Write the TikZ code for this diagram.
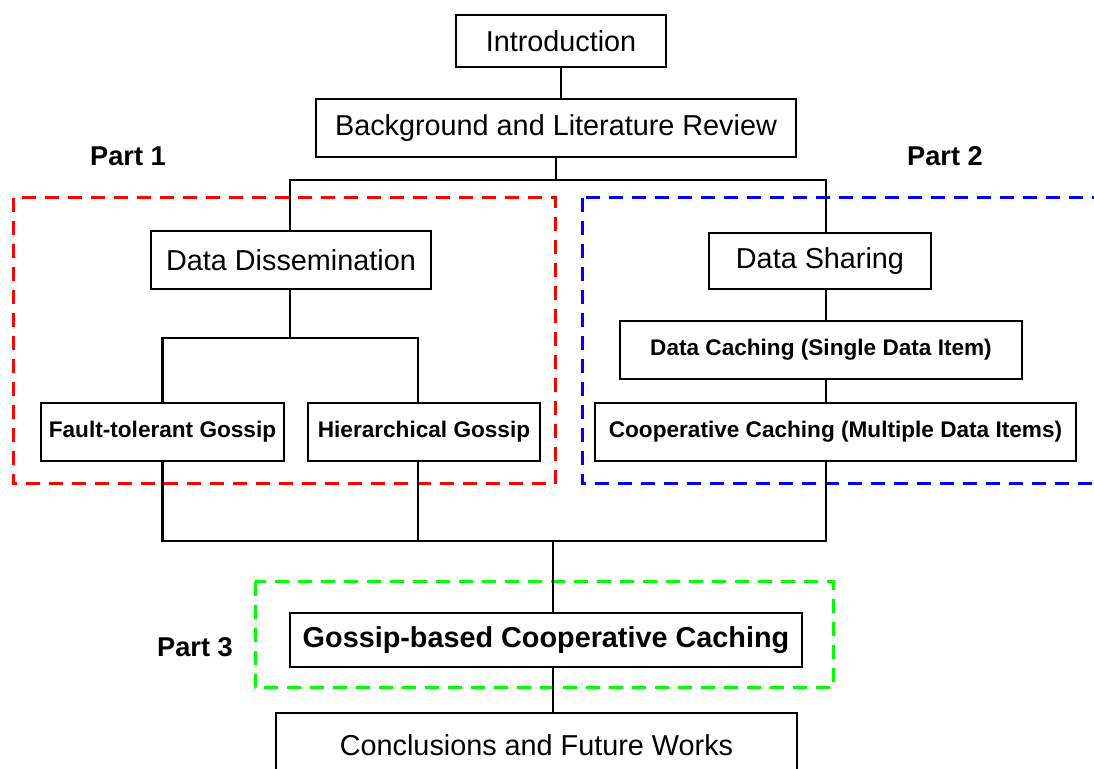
\documentclass[tikz,border=0pt]{standalone}
\usepackage{fontspec}
\setmainfont{Liberation Sans}
\usetikzlibrary{positioning,calc}
\definecolor{thsRed}{HTML}{FF0000}
\definecolor{thsBlue}{HTML}{0000FF}
\definecolor{thsGreen}{HTML}{00FF00}
\tikzset{
  ths/.style={draw=black,line width=1.4pt,fill=white,align=center,inner sep=0pt,
              font=\fontsize{14.4}{16}\selectfont},
  thsbold/.style={ths,font=\fontsize{11.3}{13}\selectfont\bfseries},
  thsmain/.style={ths,font=\fontsize{14.4}{16}\selectfont\bfseries},
  thsflow/.style={draw=black,line width=1.2pt},
  thspart/.style={line width=1.5pt,dash pattern=on 7pt off 4.5pt},
  thslbl/.style={font=\fontsize{13.6}{15}\selectfont\bfseries,inner sep=0pt},
}

\begin{document}
\begin{tikzpicture}[x=0.5pt,y=-0.5pt]
  \useasboundingbox (0,0) rectangle (1094,769);

  % Dashed frames of the three parts.
  \draw[thspart,draw=thsRed]   (13,198)  rectangle (555,484);
  \draw[thspart,draw=thsBlue]  (582,198) rectangle (1110,484);
  \draw[thspart,draw=thsGreen] (255,582) rectangle (833,688);

  % Spine.
  \node[ths,minimum width=105pt,minimum height=26pt] (A) at (561,41) {Introduction};
  \node[ths,minimum width=240pt,minimum height=29pt] (B) at (556,128) {Background and Literature Review};

  % Part 1, to the left.
  \node[ths,minimum width=140pt,minimum height=29pt] (C) at (291,260) {Data Dissemination};
  \node[thsbold,minimum width=121.5pt,minimum height=29pt] (D) at (162.5,432) {Fault-tolerant Gossip};
  \node[thsbold,minimum width=116pt,minimum height=29pt] (E) at (424,432) {Hierarchical Gossip};

  % Part 2, to the right.
  \node[ths,minimum width=111pt,minimum height=28pt] (F) at (820,261) {Data Sharing};
  \node[thsbold,minimum width=201pt,minimum height=29pt] (G) at (821,350) {Data Caching (Single Data Item)};
  \node[thsbold,minimum width=240.5pt,minimum height=29pt] (H) at (835.5,432) {Cooperative Caching (Multiple Data Items)};

  % Part 3 and the end.
  \node[thsmain,minimum width=256pt,minimum height=27pt] (I) at (546,640) {Gossip-based Cooperative Caching};
  \node[ths,minimum width=260.5pt,minimum height=32pt] (J) at (536.5,745) {Conclusions and Future Works};

  \node[thslbl] (P1) at (128,156) {Part 1};
  \node[thslbl] (P2) at (945,156) {Part 2};
  \node[thslbl] (P3) at (195,647) {Part 3};

  \coordinate (top) at (556,180);
  \coordinate (rc) at (826,180);
  \coordinate (low) at (553,541);

  \draw[thsflow] (A.south) -- (A.south |- B.north);
  \draw[thsflow] (B.south -| top) -- (top);
  \draw[thsflow] (C.north -| 290,0) |- (top) -- (rc) -- (rc |- F.north);
  \draw[thsflow] (C.south -| 290,0) -- (290,338) coordinate (cj);
  \draw[thsflow] (D.north) |- (cj) -| (E.north -| 418,0);
  \draw[thsflow] (rc |- F.south) -- (rc |- G.north);
  \draw[thsflow] (rc |- G.south) -- (rc |- H.north);
  \draw[thsflow] (rc |- H.south) -- (rc |- low) -- (D.south |- low) -- (D.south);
  \draw[thsflow] (E.south -| 418,0) -- (418,541);
  \draw[thsflow] (low) -- (low |- I.north);
  \draw[thsflow] (I.south -| low) -- (low |- J.north);
\end{tikzpicture}
\end{document}
